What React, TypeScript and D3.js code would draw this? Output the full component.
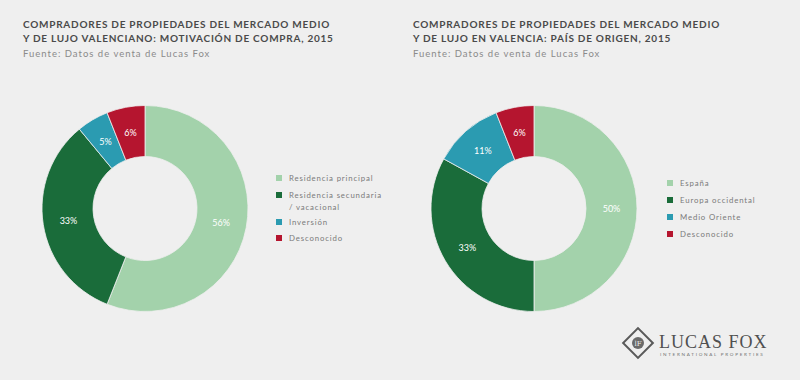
import React from "react";
import * as d3 from "d3";

const motivLabels = ["Residencia principal", "Residencia secundaria / vacacional", "Inversión", "Desconocido"];
const motivValues = [56, 33, 5, 6];
const originLabels = ["España", "Europa occidental", "Medio Oriente", "Desconocido"];
const originValues = [50, 33, 11, 6];
const colors = ["#a3d2ab", "#1a6c3a", "#2b9bb1", "#b5152f"];

const titleLeft = ["COMPRADORES DE PROPIEDADES DEL MERCADO MEDIO", "Y DE LUJO VALENCIANO: MOTIVACIÓN DE COMPRA, 2015"];
const titleRight = ["COMPRADORES DE PROPIEDADES DEL MERCADO MEDIO", "Y DE LUJO EN VALENCIA: PAÍS DE ORIGEN, 2015"];
const source = "Fuente: Datos de venta de Lucas Fox";

const FONT = "Lato, 'Open Sans', sans-serif";

function Donut({ cx, cy, values }: { cx: number; cy: number; values: number[] }) {
  const pie = d3.pie<number>().sort(null).value((d) => d)(values);
  const arc = d3.arc<d3.PieArcDatum<number>>().innerRadius(52).outerRadius(103);
  return (
    <g transform={`translate(${cx},${cy})`}>
      {pie.map((p, i) => (
        <path key={i} d={arc(p) || ""} fill={colors[i]} stroke="#efefef" strokeWidth={0.8} />
      ))}
      {pie.map((p, i) => {
        const [x, y] = arc.centroid(p);
        return (
          <text key={"t" + i} x={x} y={y} dy="0.35em" textAnchor="middle" fill="#ffffff" fontSize={9} fontFamily={FONT}>
            {values[i]}%
          </text>
        );
      })}
    </g>
  );
}

function Legend({ x, ys, labels }: { x: number; ys: number[]; labels: string[][] }) {
  return (
    <g>
      {labels.map((lines, i) => (
        <g key={i}>
          <rect x={x} y={ys[i] - 3} width={6} height={6} fill={colors[i]} />
          {lines.map((l, j) => (
            <text key={j} x={x + 13} y={ys[i] + j * 12} dy="0.35em" fontSize={7.8} fill="#7a7a7a" fontFamily={FONT} letterSpacing={0.85}>
              {l}
            </text>
          ))}
        </g>
      ))}
    </g>
  );
}

function Title({ x, lines }: { x: number; lines: string[] }) {
  return (
    <g>
      {lines.map((l, i) => (
        <text key={i} x={x} y={27.5 + i * 14.5} fontSize={10} fontWeight={700} fill="#4a4a4a" fontFamily={FONT} letterSpacing={0.75}>
          {l}
        </text>
      ))}
      <text x={x} y={57} fontSize={9.5} fill="#8a8a8a" fontFamily={FONT} letterSpacing={1}>
        {source}
      </text>
    </g>
  );
}

export default function App() {
  return (
    <svg width={800} height={380} style={{ position: "absolute", left: 0, top: 0 }}>
      <rect width={800} height={380} fill="#efefef" />
      <Title x={23} lines={titleLeft} />
      <Title x={413} lines={titleRight} />
      <Donut cx={145} cy={208.5} values={motivValues} />
      <Donut cx={534} cy={208.5} values={originValues} />
      <Legend
        x={276}
        ys={[178, 195, 222, 238]}
        labels={[[motivLabels[0]], ["Residencia secundaria", "/ vacacional"], [motivLabels[2]], [motivLabels[3]]]}
      />
      <Legend x={667} ys={[183, 200, 217, 234]} labels={originLabels.map((l) => [l])} />
      <g>
        <rect x={627.5} y={332.5} width={21} height={21} fill="none" stroke="#5a5a5a" strokeWidth={2} transform="rotate(45 638 343)" />
        <circle cx={638} cy={343} r={6} fill="#6a6a6a" />
        <text x={638} y={345.5} textAnchor="middle" fontSize={7} fill="#efefef" fontFamily="'DejaVu Serif', serif">lF</text>
        <text x={659} y={348} fontSize={18} fill="#505050" fontFamily="'Liberation Serif', serif" letterSpacing={1}>LUCAS FOX</text>
        <text x={660} y={355.5} fontSize={4.6} fill="#707070" fontFamily={FONT} letterSpacing={1.7}>INTERNATIONAL PROPERTIES</text>
      </g>
    </svg>
  );
}
